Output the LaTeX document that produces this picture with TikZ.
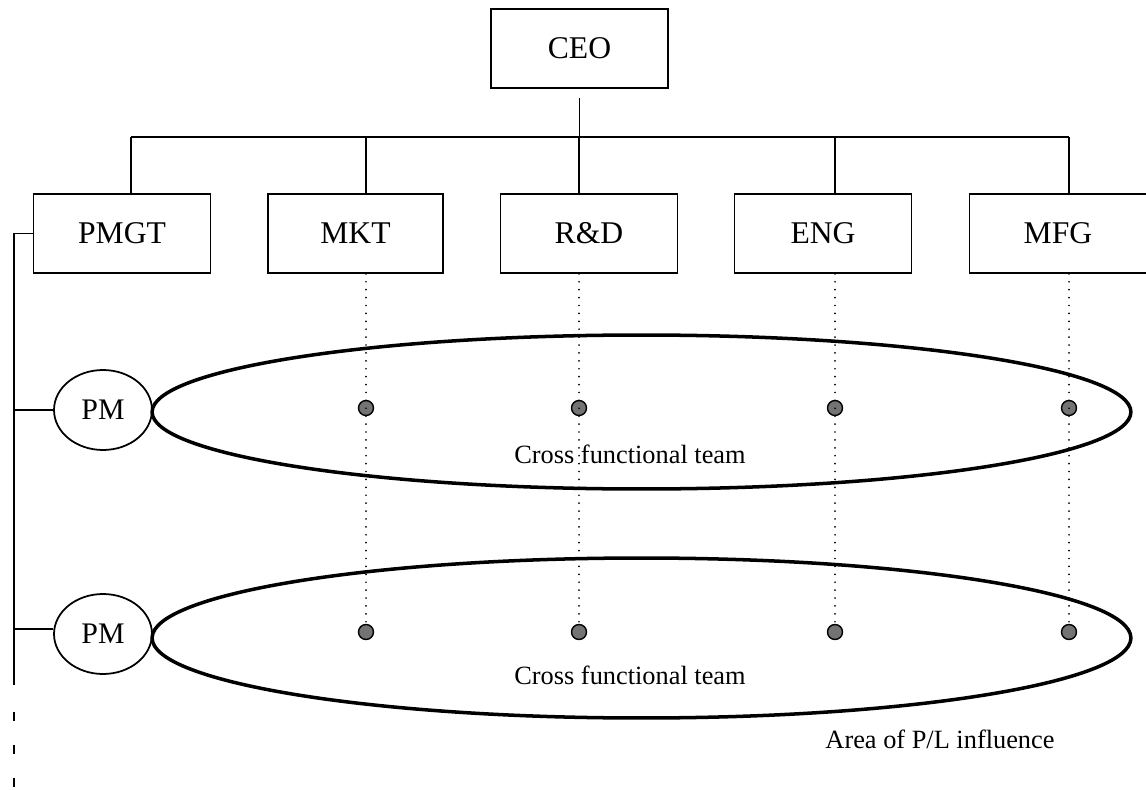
\documentclass[tikz,border=0pt]{standalone}
\usepackage{fontspec}
\setmainfont{Liberation Serif}
\usetikzlibrary{shapes.geometric}

\begin{document}
\begin{tikzpicture}[x=0.02cm,y=0.02cm,
  wire/.style={line width=1pt},
  unitbox/.style={draw,line width=1pt,minimum width=3.54cm,minimum height=1.58cm,inner sep=0pt,font=\fontsize{18}{20}\selectfont},
  pmnode/.style={draw,ellipse,line width=1pt,minimum width=1.96cm,minimum height=1.6cm,inner sep=0pt,font=\fontsize{17}{19}\selectfont},
  teamring/.style={draw,ellipse,line width=2pt,minimum width=19.58cm,inner sep=0pt},
  member/.style={circle,draw,fill=black!55,line width=0.8pt,minimum size=0.3cm,inner sep=0pt},
  linkdot/.style={line width=1.1pt,line cap=round,dash pattern=on 0pt off 4.5pt},
  note/.style={anchor=base,inner sep=0pt,font=\fontsize{15}{17}\selectfont}]
  \useasboundingbox (0,0) rectangle (1146,789);
  \node[unitbox] (ceo) at (579.5,740.5) {CEO};
  \node[unitbox] (pmgt) at (122,555.5) {PMGT};
  \node[unitbox,minimum width=3.5cm] (mkt) at (355.5,555.5) {MKT};
  \node[unitbox] (rd) at (589,555.5) {R\&D};
  \node[unitbox] (eng) at (823,555.5) {ENG};
  \node[unitbox] (mfg) at (1058,555.5) {MFG};
  \coordinate (bus) at (0,652);
  \coordinate (row1) at (0,381);
  \coordinate (row2) at (0,157);
  \coordinate (pmgtcol) at ([xshift=0.18cm]pmgt.north);
  \coordinate (mktcol) at ([xshift=0.21cm]mkt.north);
  \coordinate (rdcol) at ([xshift=-0.2cm]rd.north);
  \coordinate (engcol) at ([xshift=0.24cm]eng.north);
  \coordinate (mfgcol) at ([xshift=0.22cm]mfg.north);
  \foreach \u in {pmgt,mkt,rd,eng,mfg}
    \draw[wire] (\u col) -- (\u col |- bus);
  \draw[wire] (pmgtcol |- bus) -- (mfgcol |- bus);
  \draw[wire,shorten <=0.18cm] (ceo.south) -- (ceo.south |- bus);
  \node[teamring,minimum height=3.08cm] (team1) at (641.5,377) {};
  \node[teamring,minimum height=3.2cm] (team2) at (641.5,151) {};
  \node[pmnode] (pm1) at (103,379) {PM};
  \node[pmnode] (pm2) at (103,155) {PM};
  \coordinate (spinetop) at (14,555.5);
  \coordinate (spinebot) at (14,104);
  \coordinate (spineend) at (14,0);
  \draw[wire] (pmgt.west) -- (spinetop) -- (spinebot);
  \draw[line width=1.6pt,dash pattern=on 0.18cm off 0.48cm] ([yshift=-0.54cm]spinebot) -- (spineend);
  \draw[wire] (pm1.west) -- (pm1.west -| spinetop);
  \draw[wire] ([yshift=0.1cm]pm2.west) -- ([yshift=0.1cm]pm2.west -| spinetop);
  \foreach \u in {mkt,rd,eng,mfg}{
    \node[member] (\u1) at (\u col |- row1) {};
    \node[member] (\u2) at (\u col |- row2) {};
    \draw[linkdot] (\u col |- \u.south) -- (\u2);
  }
  \node[note] (label1) at (630,326) {Cross functional team};
  \node[note] (label2) at (630,105) {Cross functional team};
  \node[note] (plarea) at (940,41) {Area of P/L influence};
\end{tikzpicture}
\end{document}
